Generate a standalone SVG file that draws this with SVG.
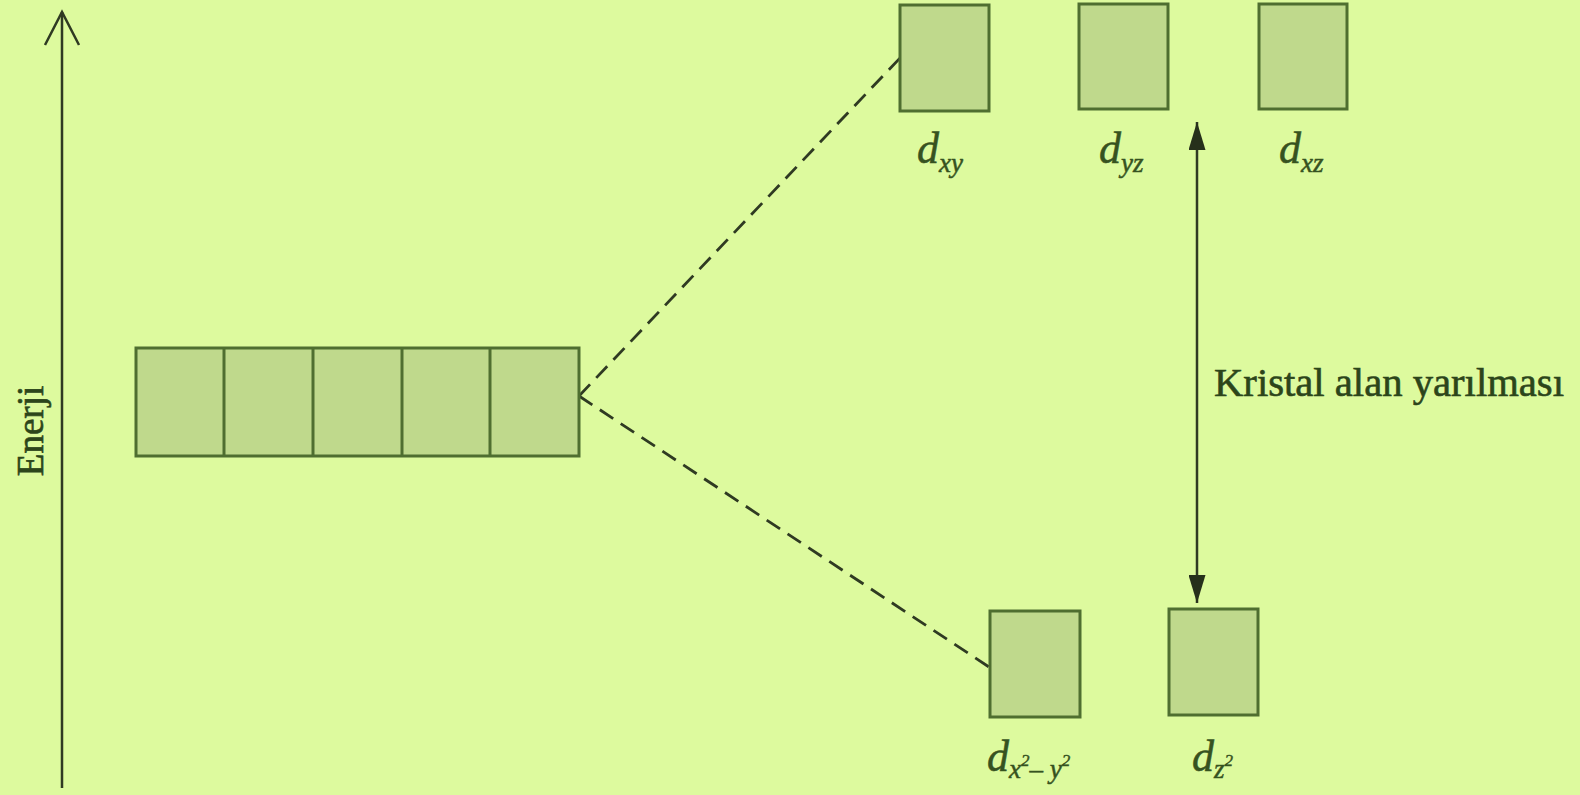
<svg xmlns="http://www.w3.org/2000/svg" width="1580" height="795" viewBox="0 0 1580 795">
<style>
.box{fill:#bfd98c;stroke:#4f6e30;stroke-width:3}
.ax{stroke:#2f3a22;stroke-width:2.5;fill:none}
.dash{stroke:#2f3a22;stroke-width:2.8;fill:none;stroke-dasharray:16 9}
.lbl{font-family:"Liberation Serif",serif;font-style:italic;fill:#365220;stroke:#365220;stroke-width:0.5}
.d{font-size:44px}
.sub{font-size:27px}
.sup{font-size:17px}
.t{font-family:"Liberation Serif",serif;fill:#2c451a;stroke:#2c451a;stroke-width:0.6}
</style>
<defs>
<marker id="fa" viewBox="0 0 28 17" refX="28" refY="8.5" markerWidth="28" markerHeight="17" markerUnits="userSpaceOnUse" orient="auto-start-reverse">
<path d="M0,0 L28,8.5 L0,17 z" fill="#26301b"/>
</marker>
</defs>
<rect width="1580" height="795" fill="#ddfa9e"/>
<g id="connectors">
<line class="ax" x1="62" y1="788" x2="62" y2="12"/>
<polyline class="ax" points="45,45 62,12 79,45"/>
<line class="dash" x1="579" y1="396" x2="900" y2="58"/>
<line class="dash" x1="579" y1="396" x2="989" y2="667"/>
<line class="ax" x1="1197" y1="122" x2="1197" y2="603" marker-start="url(#fa)" marker-end="url(#fa)"/>
</g>
<g id="energy-label">
<text class="t" font-size="37" transform="translate(43,431) rotate(-90)" text-anchor="middle">Enerji</text>
</g>
<g id="degenerate-d">
<rect class="box" x="136" y="348" width="443" height="108"/>
<line class="box" x1="224" y1="348" x2="224" y2="456"/>
<line class="box" x1="313" y1="348" x2="313" y2="456"/>
<line class="box" x1="402" y1="348" x2="402" y2="456"/>
<line class="box" x1="490" y1="348" x2="490" y2="456"/>
</g>
<g id="dxy">
<rect class="box" x="900" y="5" width="89" height="106"/>
<text class="lbl" x="917" y="163"><tspan class="d">d</tspan><tspan class="sub" dy="9">xy</tspan></text>
</g>
<g id="dyz">
<rect class="box" x="1079" y="4" width="89" height="105"/>
<text class="lbl" x="1099" y="163"><tspan class="d">d</tspan><tspan class="sub" dy="9">yz</tspan></text>
</g>
<g id="dxz">
<rect class="box" x="1259" y="4" width="88" height="105"/>
<text class="lbl" x="1279" y="163"><tspan class="d">d</tspan><tspan class="sub" dy="9">xz</tspan></text>
</g>
<g id="dx2y2">
<rect class="box" x="990" y="611" width="90" height="106"/>
<text class="lbl" x="987" y="771"><tspan class="d">d</tspan><tspan class="sub" dy="7">x</tspan><tspan class="sup" dy="-12">2</tspan><tspan class="sub" dy="12">– y</tspan><tspan class="sup" dy="-12">2</tspan></text>
</g>
<g id="dz2">
<rect class="box" x="1169" y="609" width="89" height="106"/>
<text class="lbl" x="1192" y="771"><tspan class="d">d</tspan><tspan class="sub" dy="7">z</tspan><tspan class="sup" dy="-12">2</tspan></text>
</g>
<g id="splitting-label">
<text class="t" x="1214" y="396" font-size="40" textLength="350" lengthAdjust="spacingAndGlyphs">Kristal alan yarılması</text>
</g>
</svg>
